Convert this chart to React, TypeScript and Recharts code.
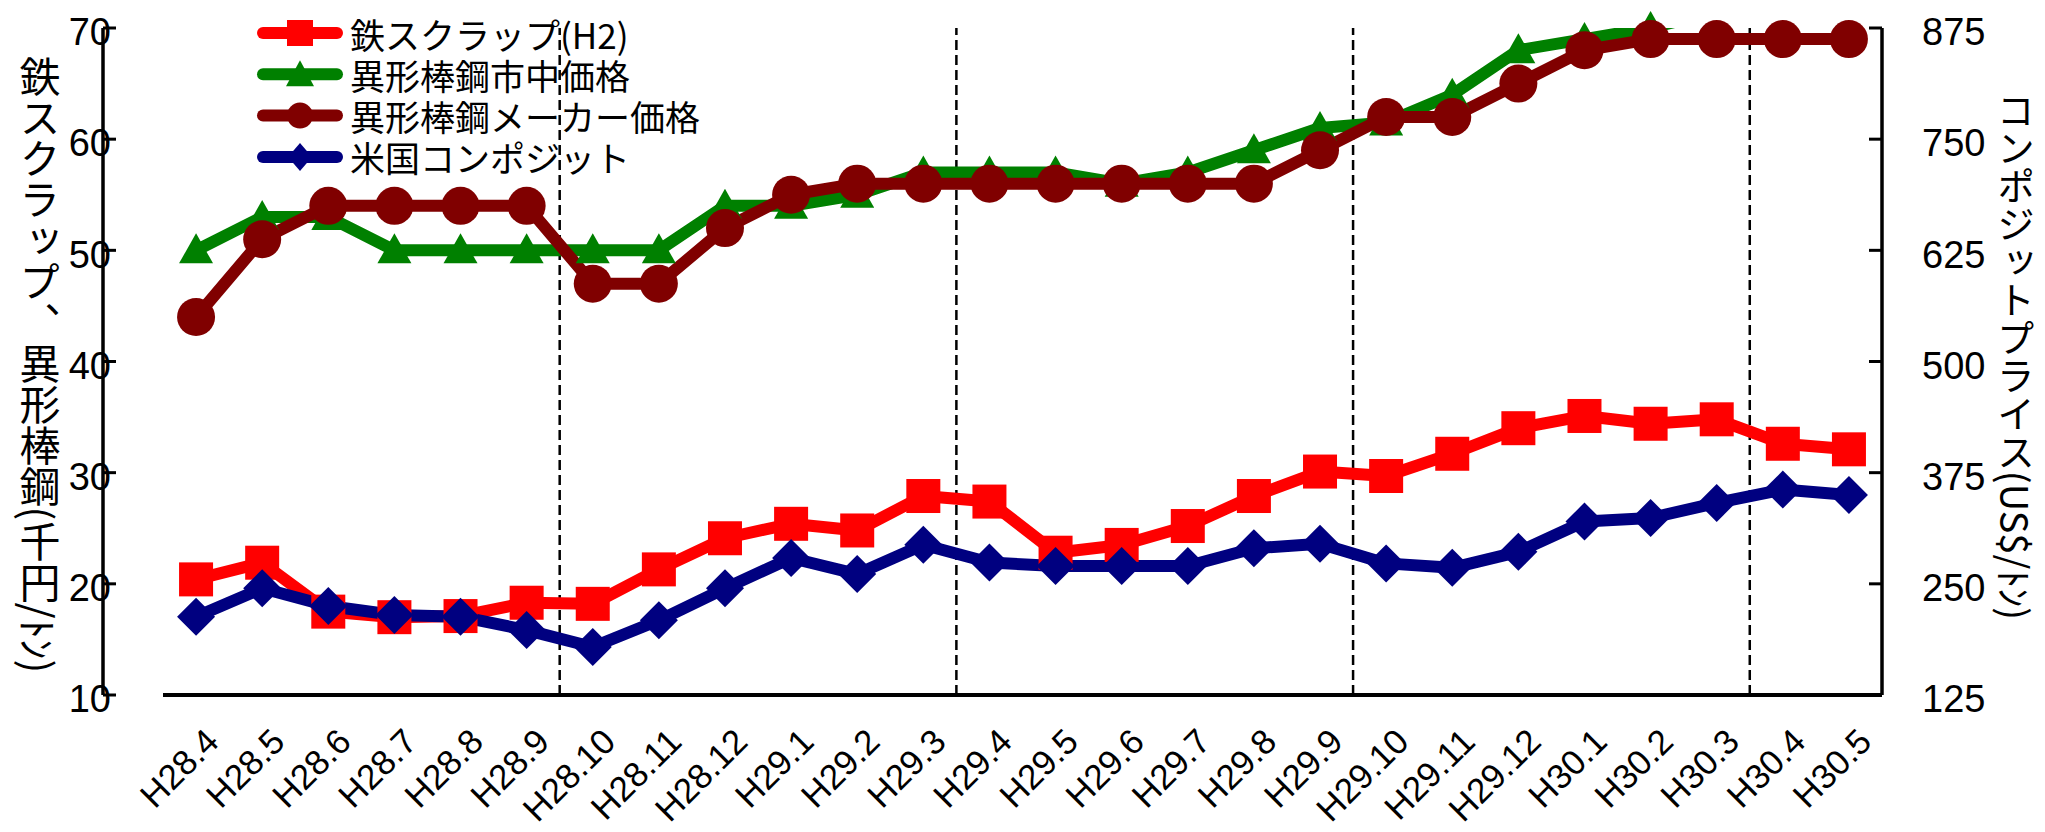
import { Legend, Line, LineChart, ReferenceLine, XAxis, YAxis } from "recharts";

const months = [
	"H28.4", "H28.5", "H28.6", "H28.7", "H28.8", "H28.9", "H28.10", "H28.11", "H28.12",
	"H29.1", "H29.2", "H29.3", "H29.4", "H29.5", "H29.6", "H29.7", "H29.8", "H29.9",
	"H29.10", "H29.11", "H29.12", "H30.1", "H30.2", "H30.3", "H30.4", "H30.5",
];
// 千円/トン
const scrap = [20.4, 21.9, 17.5, 17.0, 17.1, 18.3, 18.2, 21.3, 24.1, 25.4, 24.8, 27.9, 27.4, 22.8, 23.5, 25.2, 27.9, 30.1, 29.7, 31.7, 34.0, 35.1, 34.4, 34.8, 32.6, 32.1];
const market = [50, 53, 53, 50, 50, 50, 50, 50, 54, 54, 55, 57, 57, 57, 56, 57, 59, 61, 61.5, 64, 68, 69, 70, 71.5, 71.5, 71.5];
const maker = [44, 51, 54, 54, 54, 54, 47, 47, 52, 55, 56, 56, 56, 56, 56, 56, 56, 59, 62, 62, 65, 68, 69, 69, 69, 69];
// US$/トン
const composite = [213, 245, 225, 215, 213, 198, 179, 209, 245, 279, 261, 294, 274, 270, 270, 270, 290, 295, 273, 268, 286, 320, 324, 341, 356, 350];

const leftTicks = [10, 20, 30, 40, 50, 60, 70];
const rightTicks = [125, 250, 375, 500, 625, 750, 875];
const halfYearBreaks = [5.5, 11.5, 17.5, 23.5];
const LEFT_MAX = 70;

const RED = "#ff0000";
const GREEN = "#008000";
const BROWN = "#800000";
const NAVY = "#000080";

const JP = '"Noto Sans CJK JP", sans-serif';
const TICK_FONT = 38;

const data = months.map((m, i) => ({
	i,
	m,
	scrap: scrap[i],
	market: market[i],
	marketDot: market[i] <= LEFT_MAX ? market[i] : null,
	maker: maker[i],
	composite: composite[i],
}));

function square(size: number, fill: string) {
	return (p: any) => {
		if (p.cx == null || p.cy == null || p.value == null) return <g key={p.index} />;
		return <rect key={p.index} x={p.cx - size / 2} y={p.cy - size / 2} width={size} height={size} fill={fill} />;
	};
}

function triangle(w: number, h: number, fill: string) {
	return (p: any) => {
		if (p.cx == null || p.cy == null || p.value == null) return <g key={p.index} />;
		const { cx, cy } = p;
		return (
			<path
				key={p.index}
				d={`M${cx},${cy - h / 2 - 2} L${cx + w / 2},${cy + h / 2 - 2} L${cx - w / 2},${cy + h / 2 - 2} Z`}
				fill={fill}
			/>
		);
	};
}

function circle(r: number, fill: string) {
	return (p: any) => {
		if (p.cx == null || p.cy == null || p.value == null) return <g key={p.index} />;
		return <circle key={p.index} cx={p.cx} cy={p.cy} r={r} fill={fill} />;
	};
}

function diamond(half: number, fill: string) {
	return (p: any) => {
		if (p.cx == null || p.cy == null || p.value == null) return <g key={p.index} />;
		const { cx, cy } = p;
		return (
			<path
				key={p.index}
				d={`M${cx},${cy - half} L${cx + half},${cy} L${cx},${cy + half} L${cx - half},${cy} Z`}
				fill={fill}
			/>
		);
	};
}

// rotated month labels, right end anchored just below the axis
function MonthTick(props: any) {
	const { x, payload } = props;
	return (
		<g transform={`translate(${x + 16},735)`}>
			<text transform="rotate(-45)" textAnchor="end" dy="0.35em" fontSize={35} fill="#000">
				{months[payload.value]}
			</text>
		</g>
	);
}

function LeftTick(props: any) {
	const { y, payload } = props;
	return (
		<text x={111} y={y + 4} dy="0.35em" textAnchor="end" fontSize={TICK_FONT} fill="#000">
			{payload.value}
		</text>
	);
}

function RightTick(props: any) {
	const { y, payload } = props;
	return (
		<text x={1922} y={y + 4} dy="0.35em" textAnchor="start" fontSize={TICK_FONT} fill="#000">
			{payload.value}
		</text>
	);
}

function VerticalTitle({ x, y, text, size }: { x: number; y: number; text: string; size: number }) {
	return (
		<text
			x={x}
			y={y}
			textAnchor="middle"
			fontSize={size}
			fill="#000"
			style={{ writingMode: "vertical-rl", fontFamily: JP }}
		>
			{text}
		</text>
	);
}

const legendRows = [
	{ name: "鉄スクラップ(H2)", color: RED, marker: "square" },
	{ name: "異形棒鋼市中価格", color: GREEN, marker: "triangle" },
	{ name: "異形棒鋼メーカー価格", color: BROWN, marker: "circle" },
	{ name: "米国コンポジット", color: NAVY, marker: "diamond" },
];

function LegendBox() {
	return (
		<svg width={760} height={185} style={{ display: "block" }}>
			{legendRows.map((r, k) => {
				const y = 33 + k * 41.3;
				const mx = 300;
				let mark;
				if (r.marker === "square") mark = <rect x={mx - 13} y={y - 13} width={26} height={26} fill={r.color} />;
				else if (r.marker === "triangle")
					mark = <path d={`M${mx},${y - 14} L${mx + 14},${y + 12} L${mx - 14},${y + 12} Z`} fill={r.color} />;
				else if (r.marker === "circle") mark = <circle cx={mx} cy={y} r={13} fill={r.color} />;
				else mark = <path d={`M${mx},${y - 14} L${mx + 12},${y} L${mx},${y + 14} L${mx - 12},${y} Z`} fill={r.color} />;
				return (
					<g key={r.name}>
						<line x1={263} x2={337} y1={y} y2={y} stroke={r.color} strokeWidth={12} strokeLinecap="round" />
						{mark}
						<text x={350} y={y} dominantBaseline="central" fontSize={35} fill="#000" style={{ fontFamily: JP }}>
							{r.name}
						</text>
					</g>
				);
			})}
		</svg>
	);
}

export default function App() {
	return (
		<div
			style={{
				position: "absolute",
				left: 0,
				top: 0,
				width: 2045,
				height: 832,
				background: "#fff",
				fontFamily: '"Liberation Sans", Arial, sans-serif',
			}}
		>
			<LineChart width={2045} height={832} data={data} margin={{ top: 28, right: 0, bottom: 0, left: 0 }}>
				<XAxis
					dataKey="i"
					type="number"
					domain={[-0.5, 25.5]}
					ticks={months.map((_, i) => i)}
					interval={0}
					height={137}
					tickLine={false}
					axisLine={{ stroke: "#000", strokeWidth: 4 }}
					tick={<MonthTick />}
				/>
				<YAxis
					yAxisId="left"
					domain={[10, 70]}
					ticks={leftTicks}
					interval={0}
					width={163}
					tickSize={-13}
					axisLine={{ stroke: "#000", strokeWidth: 3.5 }}
					tickLine={{ stroke: "#000", strokeWidth: 3 }}
					tick={<LeftTick />}
					label={(p: any) => (
						<VerticalTitle x={40} y={p.viewBox.y + p.viewBox.height / 2 + 3} size={41} text="鉄スクラップ、異形棒鋼(千円/ﾄﾝ)" />
					)}
				/>
				<YAxis yAxisId="clip" hide domain={[10, 70]} allowDataOverflow />
				<YAxis
					yAxisId="right"
					orientation="right"
					domain={[125, 875]}
					ticks={rightTicks}
					interval={0}
					width={163}
					tickSize={-13}
					axisLine={{ stroke: "#000", strokeWidth: 3.5 }}
					tickLine={{ stroke: "#000", strokeWidth: 3 }}
					tick={<RightTick />}
					label={(p: any) => (
						<VerticalTitle x={2016} y={p.viewBox.y + p.viewBox.height / 2 - 6} size={38} text="コンポジットプライス(US$/ﾄﾝ)" />
					)}
				/>
				{halfYearBreaks.map((b) => (
					<ReferenceLine key={b} x={b} yAxisId="left" stroke="#000" strokeWidth={2.5} strokeDasharray="10 5" />
				))}
				<Legend
					layout="horizontal"
					verticalAlign="middle"
					align="center"
					wrapperStyle={{ top: 0, left: 0, width: 760 }}
					content={<LegendBox />}
				/>
				<Line
					yAxisId="left"
					dataKey="scrap"
					stroke={RED}
					strokeWidth={12}
					strokeLinejoin="round"
					dot={square(34, RED)}
					activeDot={false}
					isAnimationActive={false}
				/>
				<Line
					yAxisId="clip"
					dataKey="market"
					stroke={GREEN}
					strokeWidth={12}
					strokeLinejoin="round"
					dot={false}
					activeDot={false}
					legendType="none"
					isAnimationActive={false}
				/>
				<Line
					yAxisId="left"
					dataKey="marketDot"
					stroke="none"
					dot={triangle(34, 30, GREEN)}
					activeDot={false}
					legendType="none"
					isAnimationActive={false}
				/>
				<Line
					yAxisId="left"
					dataKey="maker"
					stroke={BROWN}
					strokeWidth={12}
					strokeLinejoin="round"
					dot={circle(19, BROWN)}
					activeDot={false}
					isAnimationActive={false}
				/>
				<Line
					yAxisId="right"
					dataKey="composite"
					stroke={NAVY}
					strokeWidth={12}
					strokeLinejoin="round"
					dot={diamond(19, NAVY)}
					activeDot={false}
					isAnimationActive={false}
				/>
			</LineChart>
		</div>
	);
}
